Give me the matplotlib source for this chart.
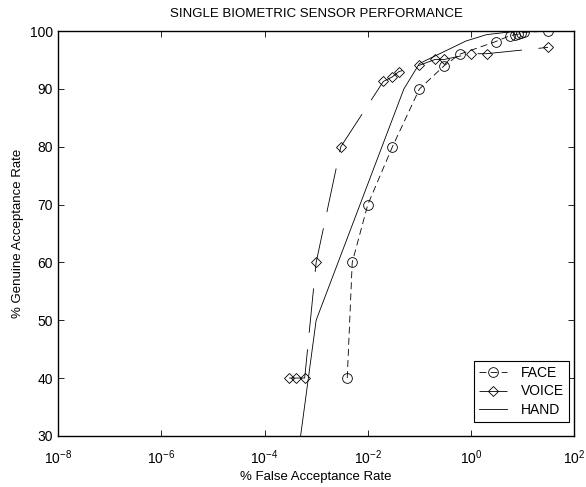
import matplotlib
matplotlib.use("Agg")
import matplotlib.pyplot as plt
from matplotlib.ticker import LogLocator, NullLocator

plt.rcParams["font.family"] = ["Liberation Sans", "DejaVu Sans"]
plt.rcParams["lines.scale_dashes"] = False

# data (FAR in %, GAR in %)
face_far = [0.004, 0.005, 0.01, 0.03, 0.1, 0.3, 0.6, 3, 5.6, 7.2, 8.3, 9.2, 10.4, 31]
face_gar = [40, 60, 70, 80, 90, 94, 96, 98.2, 99.2, 99.4, 99.5, 99.6, 99.8, 100]

voice_far = [3e-4, 4e-4, 6e-4, 1e-3, 3e-3, 0.02, 0.03, 0.04, 0.1, 0.2, 0.3, 1, 2, 31]
voice_gar = [40, 40, 40, 60, 80, 91.3, 92.1, 93, 94.1, 95.1, 95.1, 96.1, 96.1, 97.2]

hand_far = [5e-4, 1e-3, 0.05, 0.1, 0.8, 2, 6, 100]
hand_gar = [30, 50, 90, 94.4, 98.3, 99.4, 99.9, 100]


def main():
    fig = plt.figure(figsize=(5.86, 4.87), dpi=100)
    ax = fig.add_axes([0.099, 0.105, 0.881, 0.831])

    ax.plot(face_far, face_gar, color="black", lw=0.6, dashes=(5, 3),
            marker="o", markersize=7, markerfacecolor="none",
            markeredgewidth=0.6, label="FACE")
    ax.plot(voice_far, voice_gar, color="black", lw=0.6, dashes=(32, 12),
            marker="D", markersize=5.5, markerfacecolor="none",
            markeredgewidth=0.6, label="VOICE")
    ax.plot(hand_far, hand_gar, color="black", lw=0.6, label="HAND")

    ax.set_xscale("log")
    ax.set_xlim(1e-8, 1e2)
    ax.set_ylim(30, 100)
    ax.xaxis.set_major_locator(LogLocator(base=100))
    ax.xaxis.set_minor_locator(NullLocator())
    ax.set_yticks(range(30, 101, 10))

    ax.tick_params(direction="in", top=True, right=True, length=4,
                   width=0.6, labelsize=10)
    ax.tick_params(axis="x", pad=9)
    for s in ax.spines.values():
        s.set_linewidth(1.0)

    ax.set_title("SINGLE BIOMETRIC SENSOR PERFORMANCE", fontsize=9.5, pad=10)
    ax.set_xlabel("% False Acceptance Rate", fontsize=9.5, labelpad=3)
    ax.set_ylabel("% Genuine Acceptance Rate", fontsize=9.5)

    leg = ax.legend(loc="lower right", bbox_to_anchor=(0.989, 0.034),
                    borderaxespad=0, fancybox=False, edgecolor="black",
                    framealpha=1, fontsize=10, handlelength=2.0,
                    handletextpad=1.0, labelspacing=0.35, borderpad=0.35)
    leg.get_frame().set_linewidth(0.8)

    fig.savefig("out.png", dpi=100)


if __name__ == "__main__":
    main()
